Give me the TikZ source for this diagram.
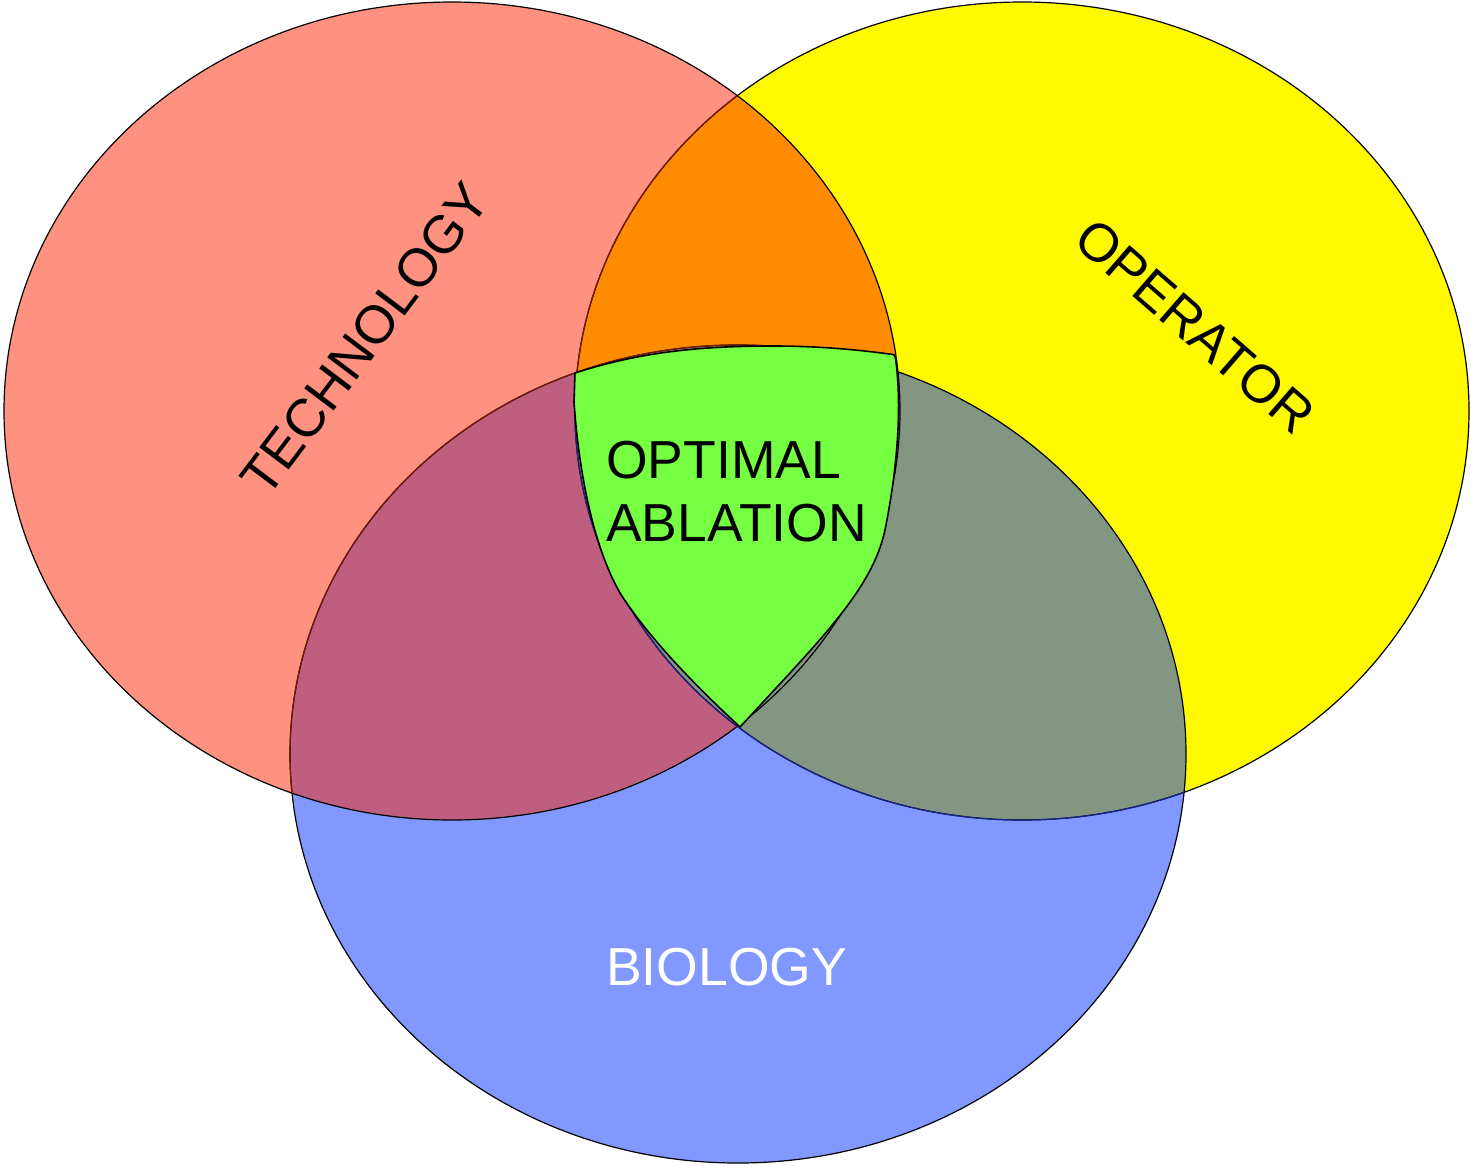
\documentclass[tikz,border=0pt]{standalone}
\usepackage{fontspec}
\setmainfont{Liberation Sans}
\definecolor{techc}{RGB}{255,145,128}
\definecolor{opc}{RGB}{255,250,0}
\definecolor{bioc}{RGB}{128,152,255}
\definecolor{tocol}{RGB}{255,140,0}
\definecolor{tbcol}{RGB}{191,94,126}
\definecolor{obcol}{RGB}{130,150,130}
\definecolor{optc}{RGB}{118,255,66}
\definecolor{edgered}{RGB}{120,25,10}
\definecolor{edgenavy}{RGB}{20,35,140}
\begin{document}
\begin{tikzpicture}[x=1pt,y=-1pt,
  edge/.style={line width=1.2pt},
  lbl/.style={font=\fontsize{53.5}{63}\selectfont, inner sep=0pt}]
\useasboundingbox (0,0) rectangle (1471,1165);
\def\tech{(452,411) ellipse [x radius=448, y radius=409]}
\def\oper{(1022,411) ellipse [x radius=447, y radius=409]}
\def\bio{(738,754) ellipse [x radius=448, y radius=409]}
% base fills
\fill[techc] \tech;
\fill[opc] \oper;
\fill[bioc] \bio;
% pairwise overlaps
\begin{scope}
  \clip \tech; \fill[tocol] \oper;
\end{scope}
\begin{scope}
  \clip \tech; \fill[tbcol] \bio;
\end{scope}
\begin{scope}
  \clip \oper; \fill[obcol] \bio;
\end{scope}
% outlines
\draw[edge] \tech;
\draw[edge] \oper;
\draw[edge] \bio;
\begin{scope}
  \clip \tech;
  \draw[edge, edgered] \oper;
  \draw[edge, edgered] \bio;
\end{scope}
\begin{scope}
  \clip \bio;
  \draw[edge, edgenavy] \oper;
\end{scope}
% central region
\draw[optc, fill=optc, draw=black, line width=1.6pt]
  (575,373) .. controls (640,352) and (700,346) .. (773,346)
  .. controls (820,346) and (860,350) .. (889,354)
  .. controls (893,355) and (895,352) .. (896,362)
  .. controls (902,410) and (897,470) .. (885,530)
  .. controls (872,590) and (820,640) .. (740,727)
  .. controls (700,690) and (650,640) .. (620,593)
  .. controls (590,540) and (578,460) .. (574,402)
  -- cycle;
% labels
\node[lbl, rotate=53] (tl) at (365,339) {TECHNOLOGY};
\node[lbl, rotate=-41] (ol) at (1195,326) {OPERATOR};
\node[lbl, align=left, anchor=north west] (cl) at (606,441) {OPTIMAL\\ABLATION};
\node[lbl, text=white, anchor=base west] (bl) at (606,985) {BIOLOGY};
\end{tikzpicture}
\end{document}
